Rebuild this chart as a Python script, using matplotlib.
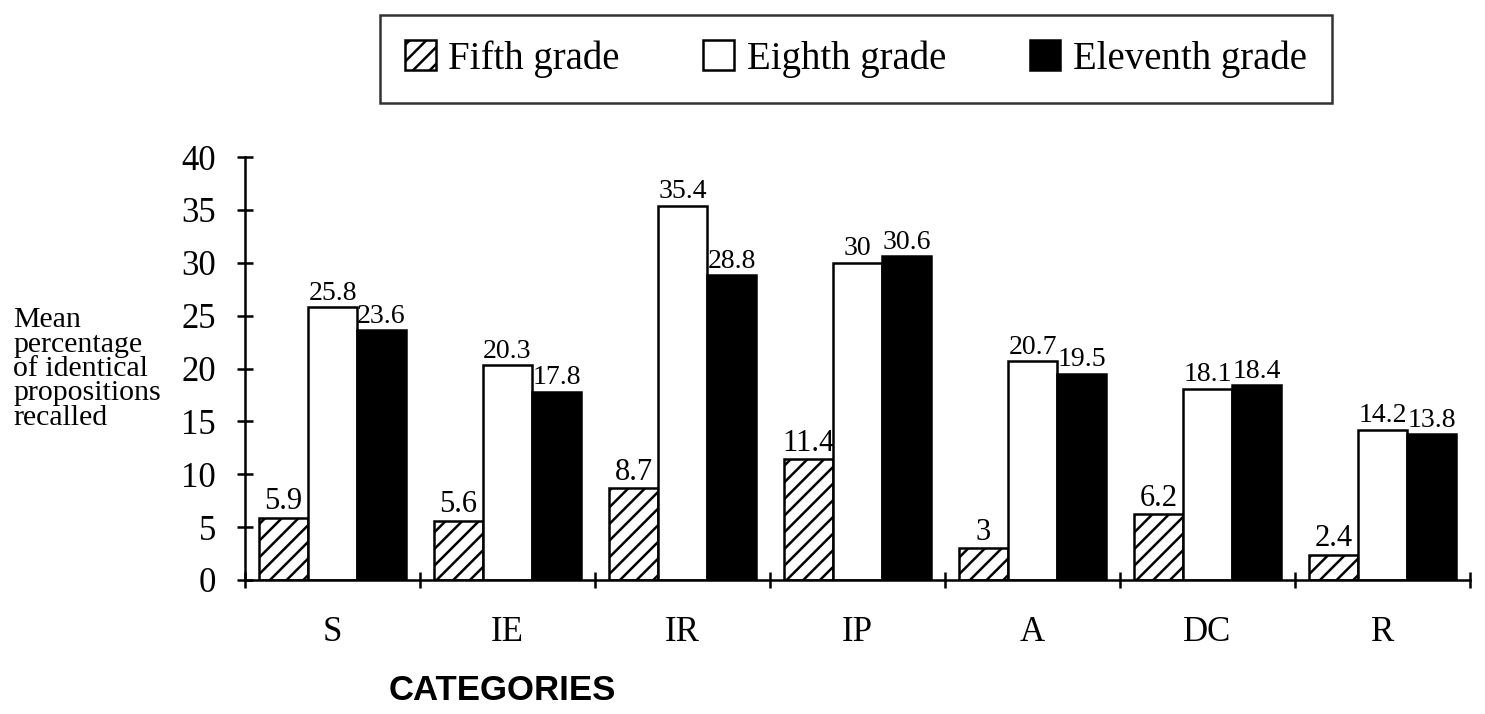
import numpy as np
import matplotlib as mpl
import matplotlib.pyplot as plt
from matplotlib.patches import Patch

mpl.rcParams['font.family'] = ['Liberation Serif', 'DejaVu Serif']
mpl.rcParams['hatch.linewidth'] = 1.8

categories = ['S', 'IE', 'IR', 'IP', 'A', 'DC', 'R']
grades = ['Fifth grade', 'Eighth grade', 'Eleventh grade']
fifth = [5.9, 5.6, 8.7, 11.4, 3, 6.2, 2.4]
eighth = [25.8, 20.3, 35.4, 30, 20.7, 18.1, 14.2]
eleventh = [23.6, 17.8, 28.8, 30.6, 19.5, 18.4, 13.8]
yticks = [0, 5, 10, 15, 20, 25, 30, 35, 40]

fig = plt.figure(figsize=(14.85, 7.14), dpi=100)
ax = fig.add_axes([245/1485, 1-580/714, 1225/1485, 423/714])

x = np.arange(len(categories)) + 0.5
w = 0.28
styles = [dict(facecolor='white', hatch='//'),
          dict(facecolor='white'),
          dict(facecolor='black')]
label_sizes = [22, 20, 20]
for i, (vals, st) in enumerate(zip([fifth, eighth, eleventh], styles)):
    bars = ax.bar(x + (i-1)*w, vals, w, edgecolor='black', linewidth=1.8, **st)
    for b, v in zip(bars, vals):
        ax.annotate('%g' % v, (b.get_x() + b.get_width()/2, v), xytext=(0, 1),
                    textcoords='offset points', ha='center', va='bottom',
                    fontsize=label_sizes[i])

ax.set_xlim(0, len(categories))
ax.set_ylim(0, 40)
ax.set_yticks(yticks)
ax.set_xticks(np.arange(len(categories)+1))
ax.set_xticklabels([])
ax.set_xticks(x, minor=True)
ax.set_xticklabels(categories, minor=True)
ax.tick_params(axis='both', which='major', direction='inout', length=12, width=1.8,
               labelsize=25)
ax.tick_params(axis='y', pad=15)
ax.tick_params(axis='x', which='minor', length=0, pad=26, labelsize=25)
for s in ('top', 'right'):
    ax.spines[s].set_visible(False)
for s in ('left', 'bottom'):
    ax.spines[s].set_linewidth(1.8)

fig.text(13/1485, 1-369/714, 'Mean\npercentage\nof identical\npropositions\nrecalled',
         ha='left', va='center', fontsize=21.5, linespacing=0.92)
fig.text(502/1485, 1-690/714, 'CATEGORIES', ha='center', va='center', fontsize=25,
         fontweight='bold', family=['Liberation Sans', 'DejaVu Sans'])

handles = [Patch(edgecolor='black', linewidth=1.8, **st) for st in styles]
leg = fig.legend(handles, grades, loc='center', ncol=3, fontsize=28,
                 bbox_to_anchor=(380/1485, 1-108/714, 952/1485, 98/714), mode='expand',
                 fancybox=False, edgecolor='black', handlelength=0.78, handleheight=0.82,
                 handletextpad=0.33, columnspacing=2.0, borderpad=0.65, borderaxespad=0)
leg.get_frame().set_linewidth(1.8)

fig.savefig('out.png', dpi=100)
